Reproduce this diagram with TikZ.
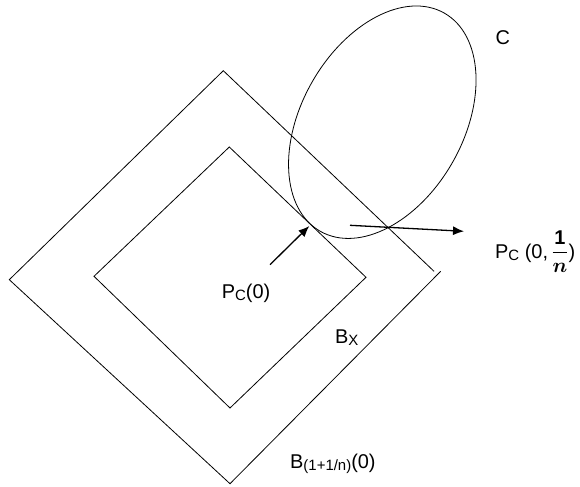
\documentclass[tikz,border=0pt]{standalone}
\usepackage{fontspec}
\usepackage{amsmath}
\usepackage{bm}
\setmainfont{Liberation Sans}
\usetikzlibrary{arrows.meta}
\newcommand\sbx[1]{\raisebox{-2.5bp}{\fontsize{15}{17}\selectfont #1}}
\begin{document}
\begin{tikzpicture}[x=1bp,y=-1bp,
  shape line/.style={line width=0.8bp,black},
  arrowline/.style={line width=1.3bp,-{Latex[length=11bp,width=9bp]}},
  lbl/.style={inner sep=0pt,anchor=base west,font=\fontsize{20}{24}\selectfont}]
\useasboundingbox (0,0) rectangle (580,487);
% outer diamond (open at right corner)
\coordinate (oT) at (223.3,70.7);
\coordinate (oL) at (9.3,279.7);
\coordinate (oB) at (230,483.7);
\coordinate (oR1) at (434,271.3);
\coordinate (oR2) at (440.7,271.3);
\draw[shape line] (oR1) -- (oT) -- (oL) -- (oB) -- (oR2);
% inner diamond
\coordinate (iT) at (229.3,147);
\coordinate (iR) at (366,277.3);
\coordinate (iB) at (230,408);
\coordinate (iL) at (94,276.3);
\draw[shape line] (iT) -- (iR) -- (iB) -- (iL) -- cycle;
% ellipse C
\coordinate (ec) at (382.3,122.2);
\draw[shape line,rotate around={60.4:(ec)}] (ec) ellipse [x radius=125.5bp, y radius=80.9bp];
% labels
\node[lbl] (C) at (495.5,44.5) {C};
\node[lbl] (pc0) at (221.7,298) {P\sbx{C}(0)};
\node[lbl] (bx) at (335,343) {B\sbx{X}};
\node[lbl] (bn) at (290,468.3) {B\sbx{(1+1/n)}(0)};
\node[lbl] (pcn) at (495,258) {P\sbx{C} (0,\,$\displaystyle\frac{\mathbf{1}}{\bm{n}}$)};
% arrows
\coordinate (a1s) at (270,264.7);
\coordinate (a1e) at (309.3,226);
\coordinate (a2s) at (350,225.3);
\coordinate (a2e) at (464,231.3);
\draw[arrowline] (a1s) -- (a1e);
\draw[arrowline] (a2s) -- (a2e);
\end{tikzpicture}
\end{document}
